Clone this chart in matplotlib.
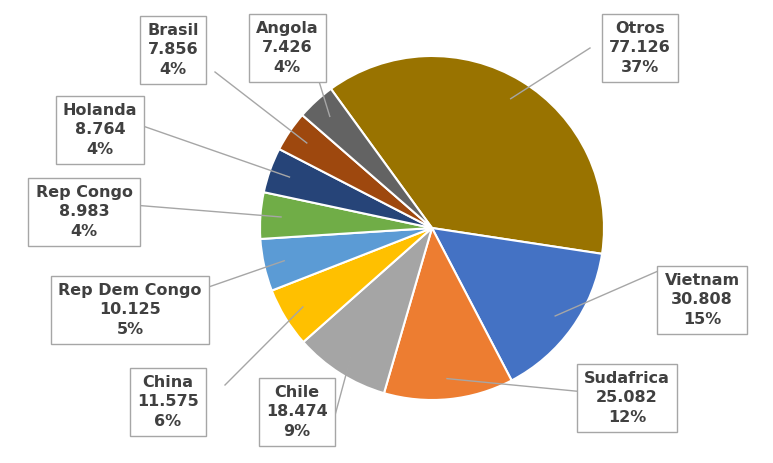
import numpy as np
import matplotlib.pyplot as plt

paises = ['Otros', 'Vietnam', 'Sudafrica', 'Chile', 'China', 'Rep Dem Congo',
          'Rep Congo', 'Holanda', 'Brasil', 'Angola']
valores = [77.126, 30.808, 25.082, 18.474, 11.575, 10.125, 8.983, 8.764, 7.856, 7.426]
colores = ['#997300', '#4472C4', '#ED7D31', '#A5A5A5', '#FFC000', '#5B9BD5',
           '#70AD47', '#264478', '#9E480E', '#636363']

# label box centres in pixel coords (x, y from top)
cajas = [(640, 48), (702, 300), (627, 398), (297, 412), (168, 402), (130, 310),
         (84, 212), (100, 130), (173, 50), (287, 48)]
# where the leader leaves the box
salidas = [(590, 48), (665, 268), (585, 392), (327, 445), (225, 385), (200, 290),
           (133, 205), (140, 125), (215, 72), (318, 78)]

W, H = 773, 463
fig = plt.figure(figsize=(W / 100, H / 100), dpi=100)
ax = fig.add_axes([0, 0, 1, 1])
ax.set_xlim(0, W)
ax.set_ylim(0, H)
ax.set_aspect('equal')
ax.axis('off')

cx, cy, r = 432, H - 228, 172
wedges, _ = ax.pie(valores, colors=colores, startangle=126, counterclock=False,
                   center=(cx, cy), radius=r, frame=True,
                   wedgeprops=dict(edgecolor='white', linewidth=1.5))
ax.set_xlim(0, W)
ax.set_ylim(0, H)
ax.axis('off')

total = sum(valores)
for w, nombre, v, (bx, by), (sx, sy) in zip(wedges, paises, valores, cajas, salidas):
    ang = np.deg2rad((w.theta1 + w.theta2) / 2)
    px, py = cx + 0.88 * r * np.cos(ang), cy + 0.88 * r * np.sin(ang)
    ax.plot([sx, px], [H - sy, py], color='#A6A6A6', lw=1, zorder=1)
    txt = f"{nombre}\n{v:.3f}\n{round(v / total * 100):.0f}%"
    ax.text(bx, H - by, txt, ha='center', va='center', fontsize=11.5,
            fontweight='bold', color='#404040', linespacing=1.35, zorder=3,
            bbox=dict(boxstyle='square,pad=0.45', fc='white', ec='#A6A6A6', lw=1))

fig.savefig('out.png', dpi=100)
